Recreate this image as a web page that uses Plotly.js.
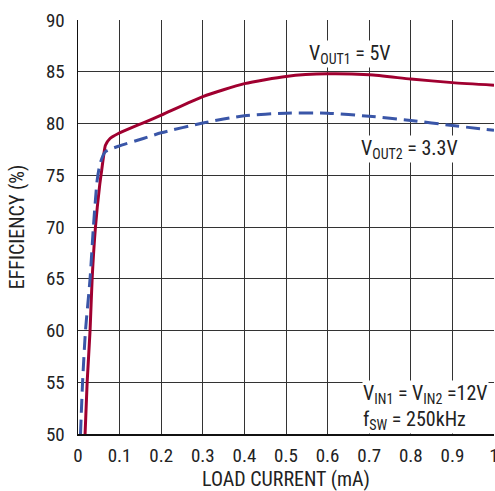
<!DOCTYPE html>
<html>
<head>
<meta charset="utf-8">
<script src="https://cdn.plot.ly/plotly-3.0.1.min.js"></script>
<style>html,body{margin:0;padding:0;background:#fff;}#chart{width:495px;height:491px;}</style>
</head>
<body>
<div id="chart"></div>
<script>
var xVout1 = [0.017, 0.022, 0.029, 0.034, 0.042, 0.052, 0.057, 0.062, 0.066, 0.077, 0.097, 0.129, 0.157, 0.2, 0.3, 0.4, 0.5, 0.6, 0.7, 0.8, 0.9, 1.0];
var yVout1 = [50, 55, 60, 65, 70, 74, 75.5, 77.0, 77.9, 78.55, 79.03, 79.6, 80.06, 80.8, 82.6, 83.85, 84.55, 84.8, 84.7, 84.3, 83.95, 83.7];
var xVout2 = [0.006, 0.011, 0.018, 0.029, 0.037, 0.046, 0.053, 0.065, 0.097, 0.157, 0.2, 0.3, 0.4, 0.5, 0.6, 0.7, 0.8, 0.9, 1.0];
var yVout2 = [50, 55, 60, 65, 70, 74.5, 76.1, 77.25, 77.8, 78.55, 79.1, 80.05, 80.75, 81.0, 81.0, 80.7, 80.3, 79.8, 79.35];
var xTicks = [0, 0.1, 0.2, 0.3, 0.4, 0.5, 0.6, 0.7, 0.8, 0.9, 1];
var xTickText = ['0', '0.1', '0.2', '0.3', '0.4', '0.5', '0.6', '0.7', '0.8', '0.9', '1'];
var yTicks = [50, 55, 60, 65, 70, 75, 80, 85, 90];

var FONT = '"Liberation Sans Narrow", "Arial Narrow", "Roboto Condensed", "Liberation Sans", Arial, sans-serif';

var traces = [
  {x: xVout1, y: yVout1, mode: 'lines', line: {color: '#a00030', width: 3, shape: 'spline', smoothing: 0.6}, hoverinfo: 'skip'},
  {x: xVout2, y: yVout2, mode: 'lines', line: {color: '#3a56a8', width: 3, dash: '14px,7px', shape: 'spline', smoothing: 0.6}, hoverinfo: 'skip'}
];

var layout = {
  width: 495, height: 491,
  margin: {l: 78, r: 1, t: 20, b: 57},
  paper_bgcolor: '#fff', plot_bgcolor: '#fff',
  showlegend: false,
  font: {family: FONT, size: 19, color: '#222'},
  xaxis: {
    range: [0, 1], tickvals: xTicks, ticktext: xTickText,
    showgrid: true, gridcolor: '#333', gridwidth: 1,
    showline: true, linecolor: '#111', linewidth: 1.5, mirror: false,
    ticks: '', ticklabelstandoff: 4, zeroline: false, ticklabeloverflow: 'allow',
    tickfont: {family: FONT, size: 19, color: '#222'},
    title: {text: 'LOAD CURRENT (mA)', font: {family: FONT, size: 20, color: '#222'}, standoff: 11}
  },
  yaxis: {
    range: [50, 90], tickvals: yTicks,
    showgrid: true, gridcolor: '#333', gridwidth: 1,
    showline: true, linecolor: '#111', linewidth: 1.5,
    ticks: '', ticklabelstandoff: 8, zeroline: false,
    tickfont: {family: FONT, size: 19, color: '#222'},
    title: {text: 'EFFICIENCY (%)', font: {family: FONT, size: 20, color: '#222'}, standoff: 16}
  },
  annotations: [
    {x: 0.553, y: 86.7, xref: 'x', yref: 'y', text: 'V<sub>OUT1</sub> = 5V', showarrow: false, xanchor: 'left', yanchor: 'middle', bgcolor: '#fff', font: {family: FONT, size: 20, color: '#222'}, borderpad: 0},
    {x: 0.677, y: 77.5, xref: 'x', yref: 'y', text: 'V<sub>OUT2</sub> = 3.3V', showarrow: false, xanchor: 'left', yanchor: 'middle', bgcolor: '#fff', font: {family: FONT, size: 20, color: '#222'}, borderpad: 0},
    {x: 0.683, y: 52.6, xref: 'x', yref: 'y', text: 'V<sub>IN1</sub> = V<sub>IN2</sub> =12V<br>f<sub>SW</sub> = 250kHz', showarrow: false, xanchor: 'left', yanchor: 'middle', align: 'left', bgcolor: '#fff', font: {family: FONT, size: 20, color: '#222'}, borderpad: 0}
  ]
};

Plotly.newPlot('chart', traces, layout, {displayModeBar: false, staticPlot: true});
</script>
</body>
</html>
